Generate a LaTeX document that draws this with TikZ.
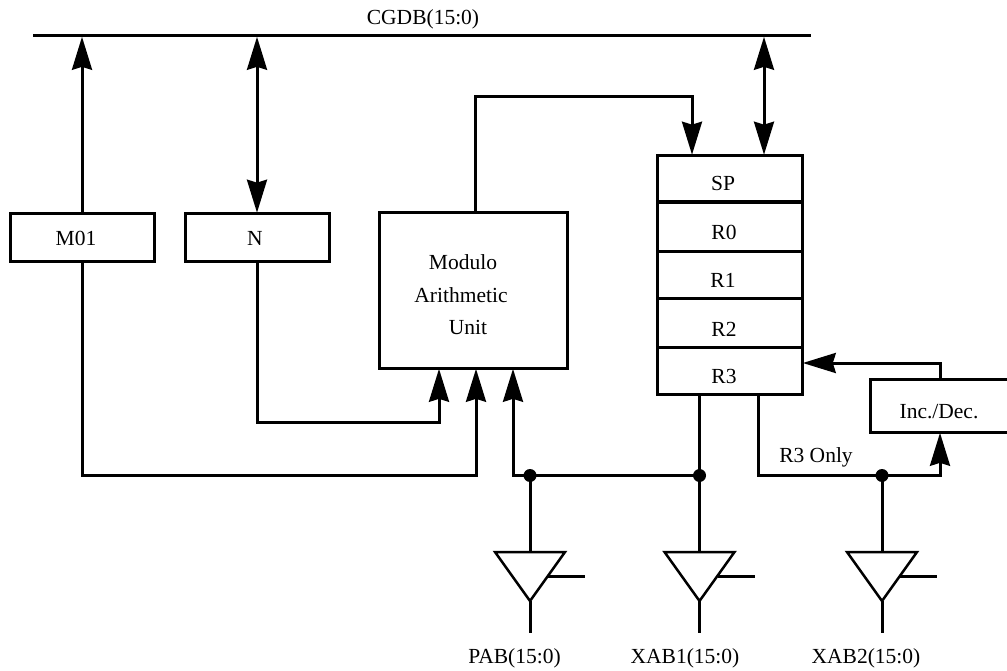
\documentclass[tikz,border=0pt]{standalone}
\usepackage{fontspec}
\setmainfont{Liberation Serif}
\usetikzlibrary{arrows.meta,calc,positioning}
\tikzset{
  x=1pt,y=-1pt,
  wire/.style={line width=3pt,line cap=butt,line join=miter},
  arr/.style={wire,-{Stealth[length=33pt,width=20pt,inset=3pt]},shorten >=0.8pt},
  darr/.style={wire,{Stealth[length=33pt,width=20pt,inset=3pt]}-{Stealth[length=33pt,width=20pt,inset=3pt]},shorten >=0.8pt,shorten <=0.8pt},
  blk/.style={draw,line width=3pt,inner sep=0pt,outer sep=0pt},
  lbl/.style={inner sep=0pt,font=\fontsize{21.5}{24}\selectfont},
  dot/.style={circle,fill=black,inner sep=0pt,minimum size=13pt},
  bufshape/.style={line width=2.5pt,line join=miter},
}
\begin{document}
\begin{tikzpicture}
\useasboundingbox (0,0) rectangle (1007,671);
% bus
\coordinate (busL) at (33,36);
\coordinate (busR) at (811,36);
\draw[wire] (busL) -- (busR);
\node[lbl] (cgdb) at (423,19) {CGDB(15:0)};
% boxes
\node[blk,minimum width=144pt,minimum height=48pt] (m01) at (82,237.5) {};
\node[lbl] (m01t) at (76,238) {M01};
\node[blk,minimum width=144pt,minimum height=48pt] (n) at (257,237.5) {};
\node[lbl] (nt) at (255,238) {N};
\node[blk,minimum width=188pt,minimum height=155pt] (mau) at (473,290.5) {};
\node[lbl] (mau1) at (463,262) {Modulo};
\node[lbl] (mau2) at (461,295) {Arithmetic};
\node[lbl] (mau3) at (468,327) {Unit};
\node[blk,minimum width=145pt,minimum height=47pt] (sp) at (729.5,179) {};
\node[blk,minimum width=145pt,minimum height=50pt] (r0) at (729.5,227) {};
\node[blk,minimum width=145pt,minimum height=46pt] (r1) at (729.5,275) {};
\node[blk,minimum width=145pt,minimum height=49pt] (r2) at (729.5,322.5) {};
\node[blk,minimum width=145pt,minimum height=47pt] (r3) at (729.5,370.5) {};
\node[lbl] (spt) at (723,183) {SP};
\node[lbl] (r0t) at (724,232) {R0};
\node[lbl] (r1t) at (723,280) {R1};
\node[lbl] (r2t) at (724,329) {R2};
\node[lbl] (r3t) at (724,376) {R3};
\node[blk,minimum width=140pt,minimum height=53pt] (inc) at (940,405.5) {};
\node[lbl] (inct) at (939,412) {Inc./Dec.};
% junctions
\node[dot] (jp) at (530,475.5) {};
\node[dot] (jx) at (699.5,475.5) {};
\node[dot] (jy) at (882,475.5) {};
% buffers
\coordinate (b1top) at (530,552);
\coordinate (b2top) at (699.5,552);
\coordinate (b3top) at (882,552);
\foreach \c/\x in {p/530,x/699.5,y/882}{
  \draw[bufshape] (\x-35,552) -- (\x+35,552) -- (\x,601) -- cycle;
  \coordinate (tip\c) at (\x,601);
  \coordinate (en\c) at (\x+18,576.5);
  \coordinate (enend\c) at (\x+55,576.5);
  \coordinate (out\c) at (\x,633);
  \draw[wire] (en\c) -- (enend\c);
  \draw[wire] (tip\c) -- (out\c);
}
% labels
\node[lbl] (pab) at (514.5,658) {PAB(15:0)};
\node[lbl] (xab1) at (685,658) {XAB1(15:0)};
\node[lbl] (xab2) at (866,658) {XAB2(15:0)};
\node[lbl] (r3only) at (816,457) {R3 Only};
% connectors
\draw[arr] (m01.north) -- (m01.north |- busL);
\draw[darr] (n.north) -- (n.north |- busL);
\coordinate (spin) at (764,155.5);
\draw[darr] (spin) -- (spin |- busL);
\coordinate (mauout) at (475,213);
\coordinate (mautop) at (475,97);
\coordinate (spin2) at (692,155.5);
\draw[arr] (mauout) -- (mautop) -| (spin2);
\coordinate (mauin1) at (439,368);
\coordinate (mauin2) at (476,368);
\coordinate (mauin3) at (513,368);
\coordinate (nloop) at (300,422);
\coordinate (mloop) at (300,475.5);
\draw[arr] (n.south) |- (nloop) -| (mauin1);
\draw[arr] (m01.south) |- (mloop) -| (mauin2);
\draw[arr] (jx.center) -- (jp.center) -- (jp.center -| mauin3) -- (mauin3);
\draw[wire] (jp.center) -- (b1top);
\coordinate (r3a) at (699.5,394);
\draw[wire] (r3a) -- (b2top);
\coordinate (r3b) at (758,394);
\coordinate (incin) at (940,432);
\draw[arr] (r3b) |- (jy.center) -| (incin);
\draw[wire] (jy.center) -- (b3top);
\coordinate (incout) at (940,379);
\coordinate (r3in) at (802,363);
\draw[arr] (incout) |- (r3in);
\end{tikzpicture}
\end{document}
